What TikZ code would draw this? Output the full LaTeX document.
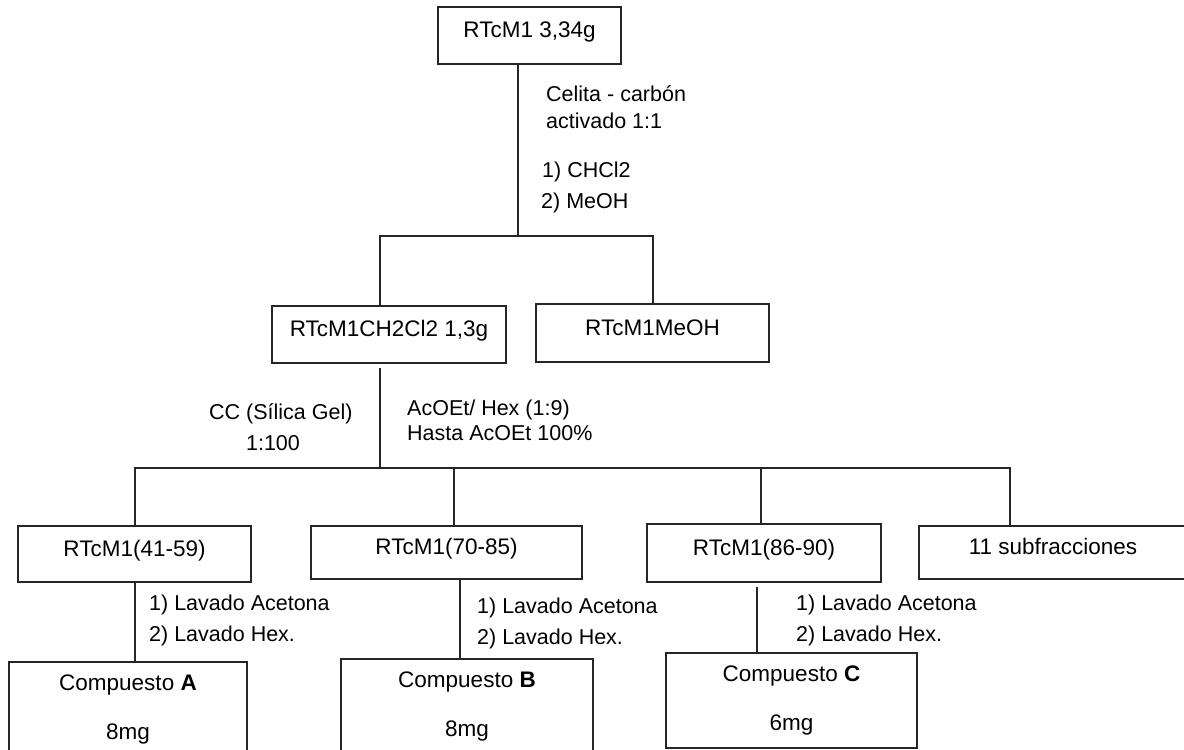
\documentclass[tikz,border=0pt]{standalone}
\usepackage{fontspec}
\setmainfont{Liberation Sans}
\begin{document}
\begin{tikzpicture}[x=1pt,y=-1pt,
  line/.style={draw=black!85,line width=1.5pt},
  box/.style={line,rectangle,inner sep=0pt,font=\fontsize{22.5pt}{26pt}\selectfont,text height=16pt,text depth=11.5pt},
  cbox/.style={line,rectangle,inner sep=0pt,font=\fontsize{22.5pt}{25pt}\selectfont,align=center,minimum height=95pt},
  lbl/.style={inner sep=0pt,font=\fontsize{21.5pt}{25pt}\selectfont,anchor=base west}]
\path[use as bounding box] (0,0) rectangle (1184,750);
\clip (0,0) rectangle (1184,750);
\fill[white] (0,0) rectangle (1184,750);
% boxes
\node[box,minimum width=183pt,minimum height=57pt] (top) at (529.5,35.5) {RTcM1 3,34g};
\node[box,minimum width=234pt,minimum height=57pt] (ch) at (389,334.5) {RTcM1CH2Cl2 1,3g};
\node[box,minimum width=233pt,minimum height=58pt] (me) at (652.5,333) {RTcM1MeOH};
\node[box,minimum width=233pt,minimum height=56pt] (b1) at (134.5,554) {RTcM1(41-59)};
\node[box,minimum width=271pt,minimum height=53pt] (b2) at (446.5,552.5) {RTcM1(70-85)};
\node[box,minimum width=234pt,minimum height=58pt] (b3) at (764,553) {RTcM1(86-90)};
\node[box,minimum width=268pt,minimum height=53pt] (b4) at (1053,552.5) {11 subfracciones};
\node[cbox,minimum width=238pt] (cA) at (128,709.5) {Compuesto \textbf{A}\\[24pt]8mg};
\node[cbox,minimum width=252pt] (cB) at (467,706.5) {Compuesto \textbf{B}\\[24pt]8mg};
\node[cbox,minimum width=251pt] (cC) at (791.5,700.5) {Compuesto \textbf{C}\\[24pt]6mg};
% junction coordinates
\coordinate (s1) at (518,236);
\coordinate (u1) at (380,236);
\coordinate (u2) at (653,236);
\coordinate (s2) at (380,468);
\coordinate (t1) at (135,468);
\coordinate (t2) at (454,468);
\coordinate (t3) at (761,468);
\coordinate (t4) at (1010,468);
\coordinate (vA) at (135,620);
\coordinate (vB) at (460,620);
\coordinate (vC) at (757,620);
% connectors
\draw[line] (s1 |- top.south) -- (s1);
\draw[line] (u1 |- ch.north) -- (u1) -- (u2) -- (u2 |- me.north);
\draw[line] ([yshift=-4pt]s2 |- ch.south) -- (s2);
\draw[line] (t1 |- b1.north) -- (t1) -- (t4) -- (t4 |- b4.north);
\draw[line] (t2) -- (t2 |- b2.north);
\draw[line] (t3) -- (t3 |- b3.north);
\draw[line] (vA |- b1.south) -- (vA |- cA.north);
\draw[line] (vB |- b2.south) -- (vB |- cB.north);
\draw[line] ([yshift=-4pt]vC |- b3.south) -- (vC |- cC.north);
% labels
\node[lbl] (l1) at (546,101) {Celita - carbón};
\node[lbl] (l2) at (546,128) {activado 1:1};
\node[lbl] (l3) at (542,177) {1) CHCl2};
\node[lbl] (l4) at (541,208) {2) MeOH};
\node[lbl] (l5) at (209,419) {CC (Sílica Gel)};
\node[lbl,anchor=base] (l6) at (273,450) {1:100};
\node[lbl] (l7) at (407,415) {AcOEt/ Hex (1:9)};
\node[lbl] (l8) at (407,440) {Hasta AcOEt 100\%};
\node[lbl] (la1) at (149,610) {1) Lavado Acetona};
\node[lbl] (la2) at (149,641) {2) Lavado Hex.};
\node[lbl] (lb1) at (477,613) {1) Lavado Acetona};
\node[lbl] (lb2) at (477,644) {2) Lavado Hex.};
\node[lbl] (lc1) at (796,610) {1) Lavado Acetona};
\node[lbl] (lc2) at (796,641) {2) Lavado Hex.};
\end{tikzpicture}
\end{document}
